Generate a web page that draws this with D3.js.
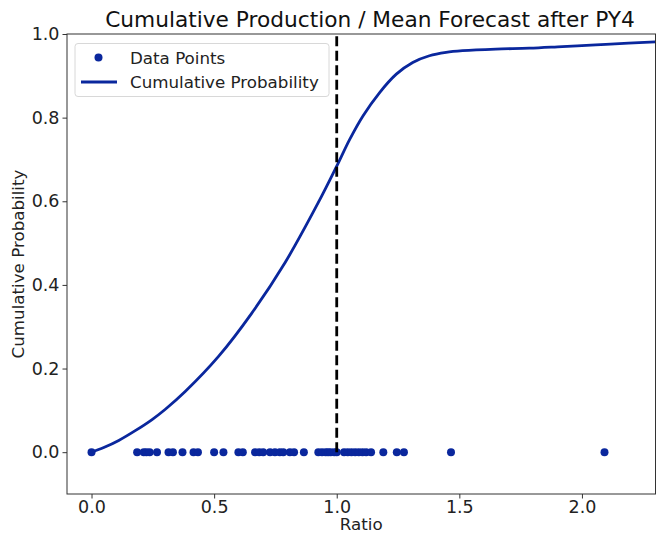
<!DOCTYPE html>
<html>
<head>
<meta charset="utf-8">
<script src="https://cdn.jsdelivr.net/npm/d3@7"></script>
<style>
  html, body { margin: 0; padding: 0; background: #fff; }
  svg { display: block; font-family: "DejaVu Sans", sans-serif; }
</style>
</head>
<body>
<svg id="chart" width="657" height="534"></svg>
<script>
// Observed ratios (cumulative production / mean forecast after PY4)
const dataRatios = [
  0.0, 0.186, 0.213, 0.224, 0.237, 0.267, 0.314, 0.332, 0.371, 0.416, 0.434,
  0.500, 0.538, 0.599, 0.617, 0.667, 0.684, 0.700, 0.728, 0.748, 0.768,
  0.782, 0.809, 0.826, 0.866, 0.925, 0.940, 0.955, 0.965, 0.975, 0.990,
  1.000, 1.030, 1.045, 1.060, 1.075, 1.090, 1.105, 1.120, 1.140, 1.190,
  1.245, 1.274, 1.466, 2.092
];

// Smoothed cumulative probability curve
const curveRatio = [
  0.0, 0.05, 0.111, 0.18, 0.247, 0.30, 0.382, 0.518, 0.653, 0.789, 0.924,
  1.0, 1.053, 1.107, 1.175, 1.243, 1.310, 1.378, 1.446, 1.513, 1.649,
  1.785, 1.920, 2.056, 2.190, 2.300
];
const curveProb = [
  0.0, 0.011, 0.028, 0.052, 0.078, 0.102, 0.145, 0.229, 0.332, 0.453, 0.596,
  0.684, 0.748, 0.804, 0.860, 0.904, 0.932, 0.948, 0.956, 0.960, 0.964,
  0.966, 0.970, 0.974, 0.978, 0.981
];

const meanRatio = 1.0;
const xTicks = [0.0, 0.5, 1.0, 1.5, 2.0];
const yTicks = [0.0, 0.2, 0.4, 0.6, 0.8, 1.0];

const titleText = "Cumulative Production / Mean Forecast after PY4";
const xLabel = "Ratio";
const yLabel = "Cumulative Probability";
const legendLabels = ["Data Points", "Cumulative Probability"];

const blue = "#0a279d";
const svg = d3.select("#chart");
const plotLeft = 67, plotRight = 655.5, plotTop = 34, plotBottom = 494;

const x = d3.scaleLinear().domain([-0.1, 2.3]).range([plotLeft, plotRight]);
const y = d3.scaleLinear().domain([-0.1, 1.0]).range([plotBottom, plotTop]);

// clip region for plotted marks
svg.append("defs").append("clipPath").attr("id", "plotArea")
  .append("rect").attr("x", plotLeft).attr("y", plotTop)
  .attr("width", plotRight - plotLeft).attr("height", plotBottom - plotTop);

const plot = svg.append("g").attr("clip-path", "url(#plotArea)");

// cumulative probability curve
const line = d3.line()
  .x((d, i) => x(curveRatio[i]))
  .y((d, i) => y(curveProb[i]))
  .curve(d3.curveCatmullRom.alpha(0.5));
plot.append("path")
  .datum(curveProb)
  .attr("d", line)
  .attr("fill", "none")
  .attr("stroke", blue)
  .attr("stroke-width", 2.8);

// data points along zero
plot.selectAll("circle.pt")
  .data(dataRatios)
  .enter().append("circle")
  .attr("class", "pt")
  .attr("cx", d => x(d))
  .attr("cy", y(0))
  .attr("r", 4)
  .attr("fill", blue);

// mean reference line
plot.append("line")
  .attr("x1", x(meanRatio)).attr("x2", x(meanRatio))
  .attr("y1", y(0)).attr("y2", y(1))
  .attr("stroke", "#000")
  .attr("stroke-width", 2.8)
  .attr("stroke-dasharray", "10,4.5");

// axes
const xAxis = d3.axisBottom(x).tickValues(xTicks).tickFormat(d3.format(".1f")).tickSize(4.5).tickPadding(2.5);
const yAxis = d3.axisLeft(y).tickValues(yTicks).tickFormat(d3.format(".1f")).tickSize(4.5).tickPadding(3);

const gx = svg.append("g").attr("transform", `translate(0,${plotBottom})`).call(xAxis);
const gy = svg.append("g").attr("transform", `translate(${plotLeft},0)`).call(yAxis);
[gx, gy].forEach(g => {
  g.select(".domain").remove();
  g.selectAll(".tick line").attr("stroke", "#333").attr("stroke-width", 1);
  g.selectAll(".tick text").attr("fill", "#222").style("font-size", "17.5px")
    .style("font-family", "'DejaVu Sans', sans-serif");
});

// frame
svg.append("rect")
  .attr("x", plotLeft).attr("y", plotTop)
  .attr("width", plotRight - plotLeft).attr("height", plotBottom - plotTop)
  .attr("fill", "none").attr("stroke", "#333").attr("stroke-width", 1);

// labels
svg.append("text")
  .attr("x", 370).attr("y", 27)
  .attr("text-anchor", "middle")
  .style("font-size", "21.7px").attr("fill", "#111")
  .text(titleText);

svg.append("text")
  .attr("x", (plotLeft + plotRight) / 2).attr("y", 530)
  .attr("text-anchor", "middle")
  .style("font-size", "16.7px").attr("fill", "#222")
  .text(xLabel);

svg.append("text")
  .attr("transform", `translate(24,${(plotTop + plotBottom) / 2}) rotate(-90)`)
  .attr("text-anchor", "middle")
  .style("font-size", "16.7px").attr("fill", "#222")
  .text(yLabel);

// legend
const lg = svg.append("g");
lg.append("rect")
  .attr("x", 75).attr("y", 43.5).attr("width", 254).attr("height", 53)
  .attr("rx", 3).attr("fill", "#fff").attr("fill-opacity", 0.8)
  .attr("stroke", "#d8d8d8").attr("stroke-width", 1);
lg.append("circle").attr("cx", 98.5).attr("cy", 57.5).attr("r", 4).attr("fill", blue);
lg.append("line").attr("x1", 81).attr("x2", 117).attr("y1", 82).attr("y2", 82)
  .attr("stroke", blue).attr("stroke-width", 2.8);
lg.selectAll("text.leg")
  .data(legendLabels)
  .enter().append("text")
  .attr("class", "leg")
  .attr("x", 130)
  .attr("y", (d, i) => 63.5 + i * 24.5)
  .style("font-size", "16.7px").attr("fill", "#222")
  .text(d => d);
</script>
</body>
</html>
